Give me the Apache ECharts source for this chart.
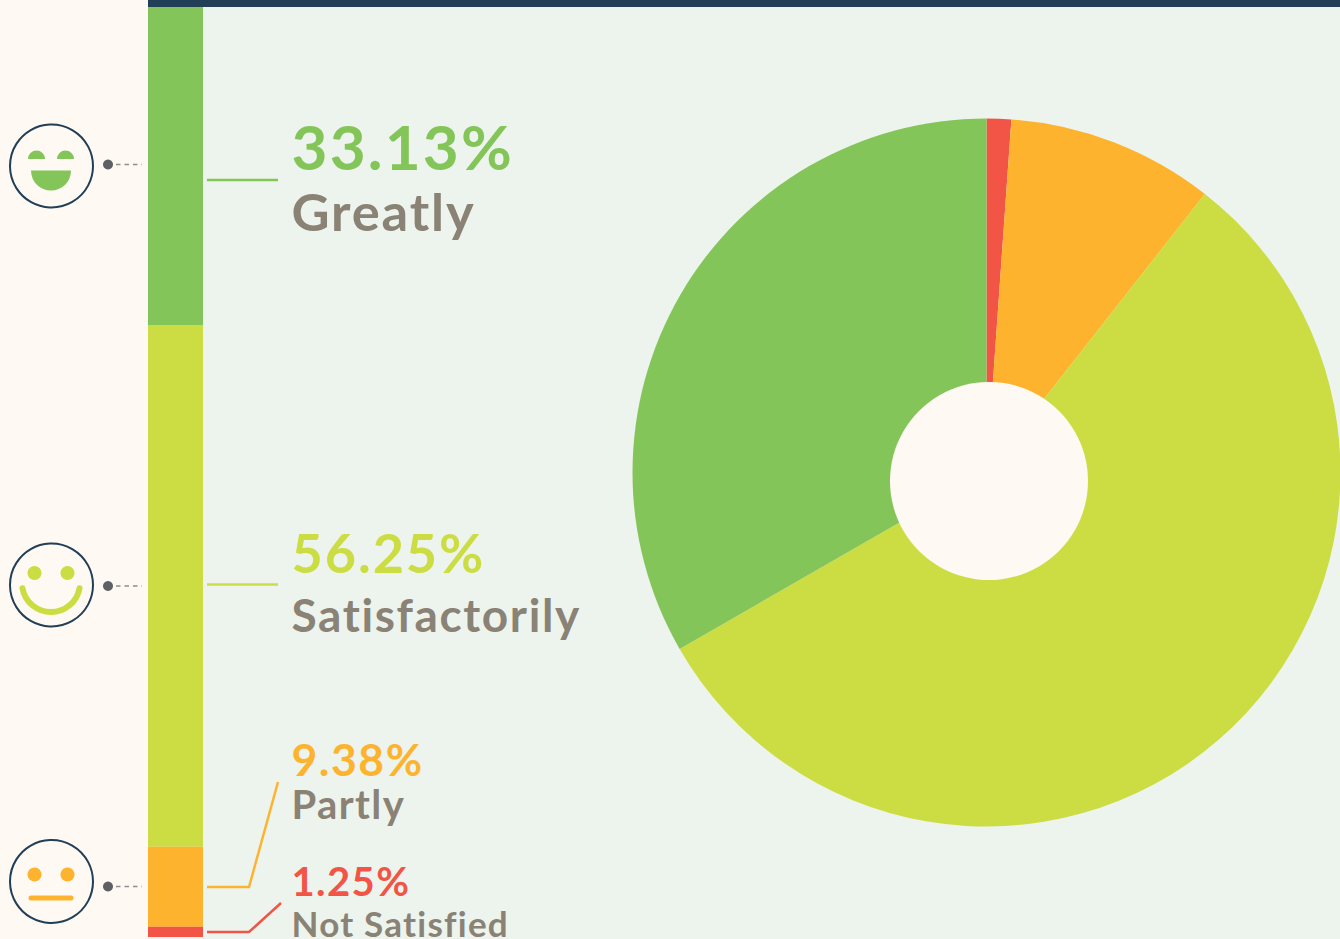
<!DOCTYPE html>
<html>
<head>
<meta charset="utf-8">
<style>
  html, body { margin: 0; padding: 0; background: #edf4ed; overflow: hidden; }
  #chart { width: 1340px; height: 939px; }
  #chart text { letter-spacing: 0.035em; }
</style>
<script src="https://cdn.jsdelivr.net/npm/echarts@6/dist/echarts.min.js"></script>
</head>
<body>
<div id="chart"></div>
<script>
  const labels = ['Greatly', 'Satisfactorily', 'Partly', 'Not Satisfied'];
  const percents = [33.13, 56.25, 9.38, 1.25];
  // the drawn shapes are not quite to scale with the printed percents, read separately
  const stripShares = [34.2, 56.1, 8.6, 1.1];
  const pieShares = [33.3, 56.1, 9.46, 1.12];
  const colors = ['#84c559', '#ccdd44', '#feb32e', '#f25545'];

  const dark = '#213f57';
  const grey = '#8a8275';
  const cream = '#fef9f3';

  // text rows: number size, label size, number baseline, label baseline
  const rows = [
    [62, 52.5, 168, 229],
    [54, 46, 572, 631],
    [44.5, 40, 775, 818],
    [40, 35, 895, 936],
  ];

  const graphic = [
    { type: 'rect', z: -1, shape: { x: 0, y: 0, width: 148, height: 939 }, style: { fill: cream } },
    { type: 'rect', z: 5, shape: { x: 148, y: 0, width: 1192, height: 7 }, style: { fill: dark } },
    // hole of the donut sits a bit off centre
    { type: 'circle', z: 10, shape: { cx: 989, cy: 481, r: 99 }, style: { fill: cream } },
  ];

  rows.forEach((row, i) => {
    graphic.push({
      type: 'text', z: 10, x: 291.5, y: row[2] - row[0] * 0.36,
      style: {
        text: percents[i].toFixed(2) + '%', fill: colors[i],
        font: '700 ' + row[0] + 'px Lato', verticalAlign: 'middle',
      },
    });
    graphic.push({
      type: 'text', z: 10, x: 291.5, y: row[3] - row[1] * 0.36,
      style: {
        text: labels[i], fill: grey,
        font: '700 ' + row[1] + 'px Lato', verticalAlign: 'middle',
      },
    });
  });

  const leaders = [
    [[207, 180], [278, 180]],
    [[207, 584.5], [278, 584.5]],
    [[207, 887], [249, 887], [278, 782]],
    [[207, 932], [249, 932], [281, 903]],
  ];
  leaders.forEach((points, i) => {
    graphic.push({
      type: 'polyline', z: 10, shape: { points },
      style: { stroke: colors[i], lineWidth: 2.5, fill: null },
    });
  });

  // faces
  const ring = (cy) => ({
    type: 'circle', z: 10, shape: { cx: 51.5, cy, r: 41.5 },
    style: { fill: null, stroke: dark, lineWidth: 2 },
  });
  const pointer = (y) => [
    { type: 'circle', z: 10, shape: { cx: 108, cy: y, r: 5 }, style: { fill: '#5d6064' } },
    {
      type: 'line', z: 10, shape: { x1: 116, y1: y, x2: 142, y2: y },
      style: { stroke: '#8f8f8f', lineWidth: 1.5, lineDash: [4.5, 4] },
    },
  ];
  const eyes = (cy, color) => [34.5, 67.5].map((cx) => ({
    type: 'circle', z: 10, shape: { cx, cy, r: 7 }, style: { fill: color },
  }));
  const halfDisc = (cx, cy, r, color, upper) => ({
    type: 'sector', z: 10,
    shape: upper
      ? { cx, cy, r, r0: 0, startAngle: Math.PI, endAngle: Math.PI * 2 }
      : { cx, cy, r, r0: 0, startAngle: 0, endAngle: Math.PI },
    style: { fill: color },
  });

  graphic.push(ring(166), ring(585), ring(881.5));
  graphic.push(...pointer(164.5), ...pointer(586), ...pointer(886.5));

  graphic.push(
    halfDisc(36.5, 159, 8.5, colors[0], true),
    halfDisc(65.5, 159, 8.5, colors[0], true),
    halfDisc(51, 170.5, 20, colors[0], false)
  );

  graphic.push(...eyes(573, colors[1]));
  graphic.push({
    type: 'arc', z: 10,
    shape: { cx: 51, cy: 583, r: 29, startAngle: 0.18, endAngle: Math.PI - 0.18 },
    style: { stroke: colors[1], lineWidth: 6, lineCap: 'round', fill: null },
  });

  graphic.push(...eyes(874.5, colors[2]));
  graphic.push({
    type: 'line', z: 10, shape: { x1: 31, y1: 898, x2: 71, y2: 898 },
    style: { stroke: colors[2], lineWidth: 5, lineCap: 'round' },
  });

  const stripSeries = stripShares.map((v, i) => ({
    name: labels[i],
    type: 'bar',
    stack: 'strip',
    barWidth: '100%',
    silent: true,
    itemStyle: { color: colors[i] },
    data: [v],
  }));

  const pieData = [3, 2, 1, 0].map((i) => ({
    name: labels[i],
    value: pieShares[i],
    itemStyle: { color: colors[i] },
  }));

  // svg renderer so the css letter-spacing reaches the text
  const chart = echarts.init(document.getElementById('chart'), null, { renderer: 'svg' });
  chart.setOption({
    animation: false,
    backgroundColor: '#edf4ed',
    grid: { left: 148, top: 7, width: 55, height: 930 },
    xAxis: { type: 'category', data: ['share'], show: false },
    yAxis: { type: 'value', min: 0, max: 100, inverse: true, show: false },
    graphic,
    series: [
      ...stripSeries,
      {
        type: 'pie',
        center: [986.5, 472.5],
        radius: [0, 354],
        startAngle: 90,
        clockwise: true,
        silent: true,
        label: { show: false },
        labelLine: { show: false },
        data: pieData,
      },
    ],
  });
</script>
</body>
</html>
